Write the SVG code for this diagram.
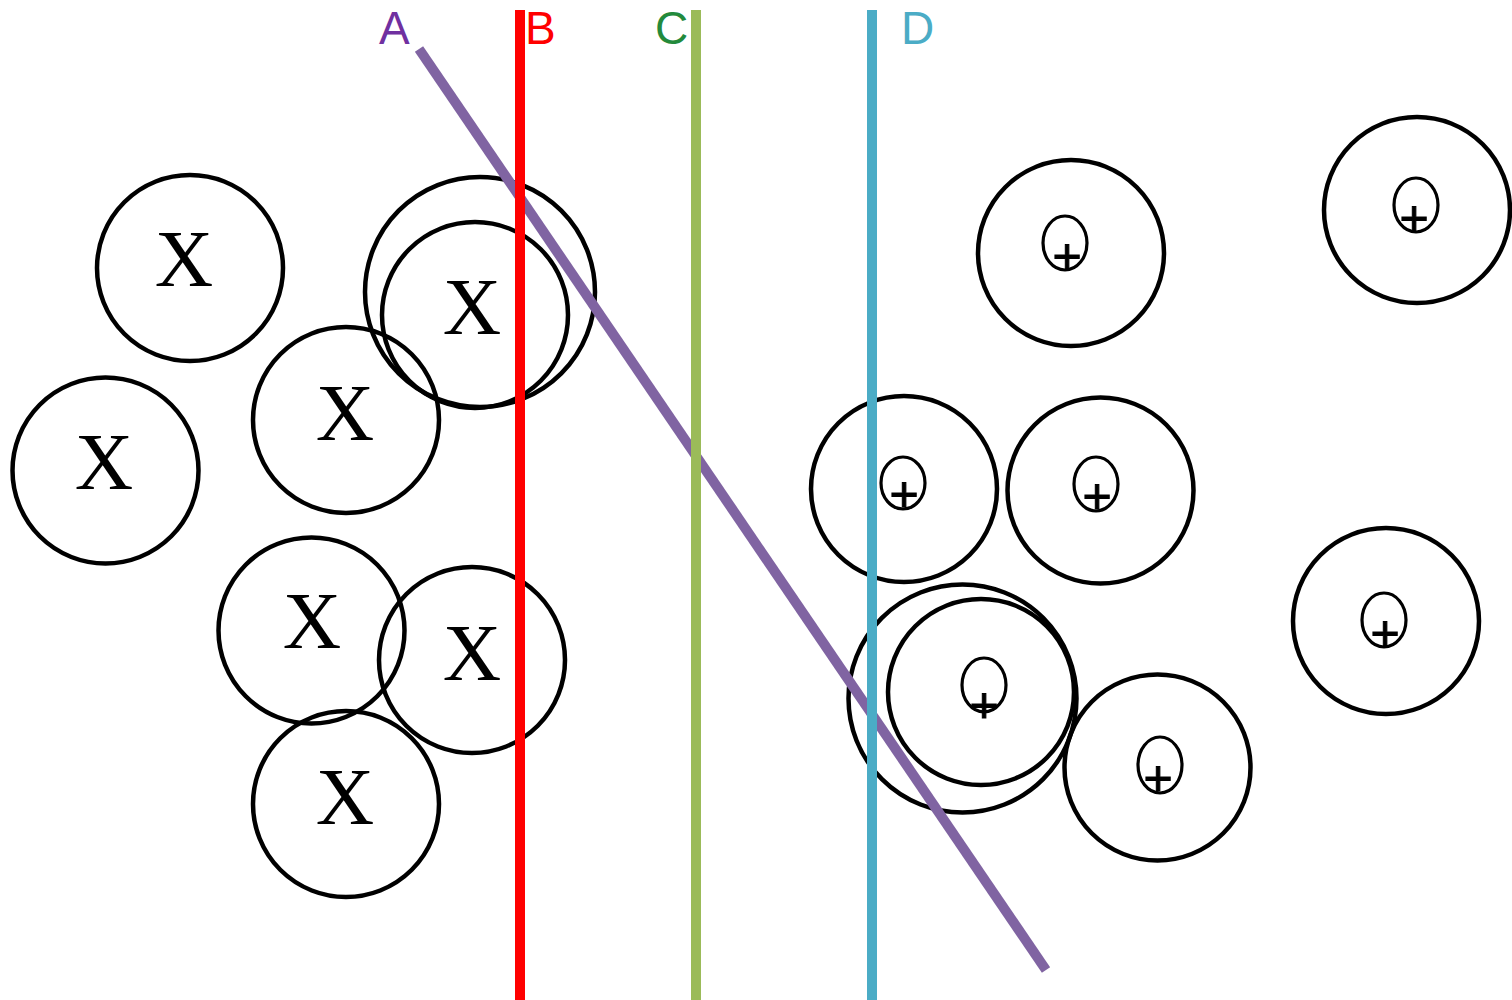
<svg xmlns="http://www.w3.org/2000/svg" width="1512" height="1000" viewBox="0 0 1512 1000">
<style>
.c{fill:none;stroke:#000;stroke-width:4.5}
.e{fill:none;stroke:#000;stroke-width:3.2}
.x{font-family:"Liberation Serif","Times New Roman",serif;font-size:81px;fill:#000;text-anchor:middle}
.p{font-family:"Liberation Sans",Arial,sans-serif;font-size:50px;fill:#000;stroke:#000;stroke-width:1;text-anchor:middle;dominant-baseline:central}
.lbl{font-family:"Liberation Sans",Arial,sans-serif;font-size:46px}
.ln{fill:none;stroke-width:10;stroke-linecap:butt}
</style>
<rect width="1512" height="1000" fill="#fff"/>
<g id="x1"><circle class="c" cx="190" cy="268" r="93"/><text class="x" x="184" y="286">X</text></g>
<g id="x2"><circle class="c" cx="105.5" cy="470.5" r="93"/><text class="x" x="104" y="489">X</text></g>
<g id="x3"><circle class="c" cx="346" cy="420" r="93"/><text class="x" x="345" y="440">X</text></g>
<g id="x4"><circle class="c" cx="480" cy="292" r="115"/><circle class="c" cx="475" cy="315" r="93"/><text class="x" x="472" y="334">X</text></g>
<g id="x5"><circle class="c" cx="311.5" cy="630.5" r="93"/><text class="x" x="312" y="648">X</text></g>
<g id="x6"><circle class="c" cx="472" cy="660" r="93"/><text class="x" x="472" y="680">X</text></g>
<g id="x7"><circle class="c" cx="346" cy="804" r="93"/><text class="x" x="345" y="824">X</text></g>

<g id="p1"><circle class="c" cx="1071" cy="253" r="93"/><ellipse class="e" cx="1065" cy="243" rx="22" ry="27"/><text class="p" x="1067" y="256">+</text></g>
<g id="p2"><circle class="c" cx="1417" cy="210" r="93"/><ellipse class="e" cx="1416" cy="205" rx="22" ry="27"/><text class="p" x="1414" y="218">+</text></g>
<g id="p3"><circle class="c" cx="904" cy="489" r="93"/><ellipse class="e" cx="903" cy="483" rx="22" ry="26"/><text class="p" x="904" y="494">+</text></g>
<g id="p4"><circle class="c" cx="1100.5" cy="490.5" r="93"/><ellipse class="e" cx="1096" cy="484" rx="22" ry="27"/><text class="p" x="1097" y="496">+</text></g>
<g id="p5"><circle class="c" cx="1386" cy="621" r="93"/><ellipse class="e" cx="1384" cy="620" rx="22" ry="27"/><text class="p" x="1385" y="633">+</text></g>
<g id="p6"><circle class="c" cx="962.5" cy="698.5" r="114"/><circle class="c" cx="981" cy="692" r="93"/><ellipse class="e" cx="984" cy="685" rx="22" ry="27"/><text class="p" x="984" y="705">+</text></g>
<g id="p7"><circle class="c" cx="1157.5" cy="767.5" r="93"/><ellipse class="e" cx="1160" cy="765" rx="22" ry="28"/><text class="p" x="1158" y="778">+</text></g>

<g id="lines">
<line class="ln" x1="419" y1="49" x2="1046" y2="970" stroke="#8064a2" stroke-width="9"/>
<line class="ln" x1="520" y1="10" x2="520" y2="1000" stroke="#ff0000"/>
<line class="ln" x1="696" y1="10" x2="696" y2="1000" stroke="#9bbb59"/>
<line class="ln" x1="872" y1="10" x2="872" y2="1000" stroke="#4bacc6"/>
</g>
<g id="labels">
<text class="lbl" x="379" y="44" fill="#7030a0">A</text>
<text class="lbl" x="525" y="44" fill="#ff0000">B</text>
<text class="lbl" x="655" y="44" fill="#238a3c">C</text>
<text class="lbl" x="901" y="44" fill="#4bacc6">D</text>
</g>
</svg>
